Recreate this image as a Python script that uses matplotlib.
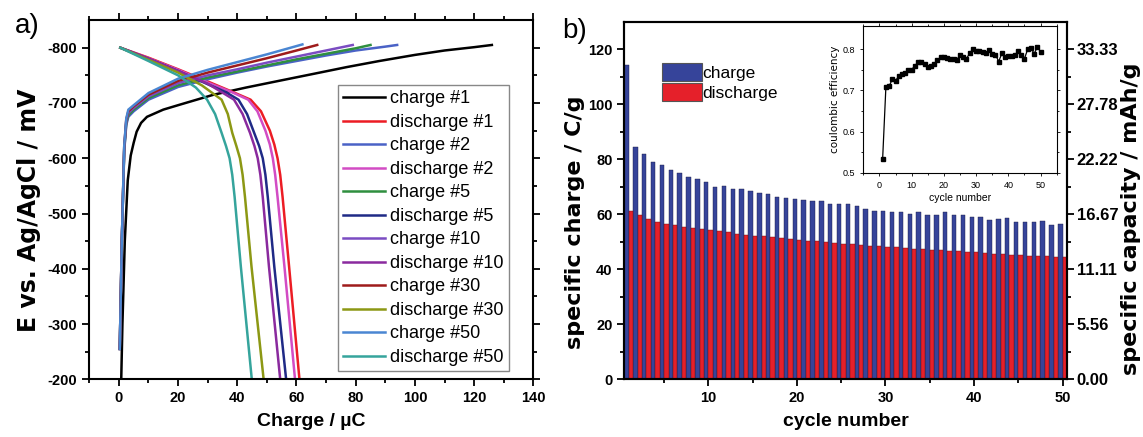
import numpy as np
import matplotlib
matplotlib.use("Agg")
import matplotlib.pyplot as plt
from matplotlib.ticker import MultipleLocator, FixedLocator

plt.rcParams['font.family'] = ['Liberation Sans', 'DejaVu Sans']
plt.rcParams['axes.unicode_minus'] = False

# ---------------- Panel a data: (charge / uC, potential / mV) ----------------
labels_a = ["charge #1", "discharge #1", "charge #2", "discharge #2", "charge #5",
            "discharge #5", "charge #10", "discharge #10", "charge #30",
            "discharge #30", "charge #50", "discharge #50"]
colors_a = ["#000000", "#ec1c24", "#4a62c6", "#d24cc4", "#2f8f3f", "#1f2a86",
            "#7b4cc2", "#8a2a9e", "#9e1b1b", "#8c9814", "#4a86d2", "#35a49c"]

ch1_x = [0.8, 1.2, 2.0, 3.0, 4.0, 5.0, 6.0, 7.5, 9.5, 15, 20.6, 32, 43, 54, 66, 77, 88, 100, 110, 120, 126]
ch1_y = [-200, -300, -450, -560, -605, -628, -648, -664, -675, -688, -697, -715, -728, -740, -753, -765, -776, -787, -795, -801, -805]
dis1_x = [0.5, 10, 20, 30, 38, 44.5, 48, 51, 52.5, 53.6, 54.5, 55.3, 57.5, 61.0]
dis1_y = [-800, -782, -761, -739, -721, -706, -685, -650, -625, -600, -570, -530, -404, -200]
ch2_x = [0.3, 1.0, 1.8, 2.5, 3.2, 5, 10, 20, 30, 40, 50, 60, 70, 80, 90, 94]
ch2_y = [-255, -450, -612, -660, -675, -685, -706, -729, -743, -755, -766, -776, -786, -795, -802, -805]
dis2_x = [0.5, 10, 20, 30, 38, 43.7, 46.8, 49.5, 51.0, 52.0, 52.8, 53.6, 56.0, 59.5]
dis2_y = [-800, -781, -760, -737, -720, -706, -685, -650, -625, -600, -570, -530, -400, -200]
ch5_x = [0.3, 1.0, 1.8, 2.5, 3.2, 5, 10, 20, 30, 40, 50, 60, 70, 80, 85]
ch5_y = [-255, -450, -615, -664, -678, -688, -709, -732, -746, -757, -768, -779, -789, -799, -805]
dis5_x = [0.5, 10, 20, 30, 36, 40.4, 43.3, 45.7, 47.4, 48.6, 49.5, 50.3, 52.5, 56.5]
dis5_y = [-800, -780, -758, -734, -720, -706, -680, -646, -622, -600, -570, -530, -404, -200]
ch10_x = [0.3, 1.0, 1.8, 2.5, 3.2, 5, 10, 20, 30, 40, 50, 60, 70, 79]
ch10_y = [-255, -450, -618, -668, -682, -691, -712, -736, -750, -761, -773, -784, -795, -805]
dis10_x = [0.5, 10, 20, 30, 38.9, 41.8, 44.3, 45.8, 46.9, 47.8, 48.6, 50.7, 54.5]
dis10_y = [-800, -780, -758, -735, -706, -680, -646, -622, -600, -570, -530, -404, -200]
ch30_x = [0.3, 1.0, 1.8, 2.5, 3.2, 5, 10, 20, 30, 40, 50, 60, 67]
ch30_y = [-255, -450, -620, -670, -685, -694, -715, -740, -755, -768, -781, -795, -805]
dis30_x = [0.5, 10, 20, 28, 34.7, 36.8, 38.3, 39.7, 40.9, 41.8, 42.6, 44.8, 48.9]
dis30_y = [-800, -778, -755, -732, -706, -680, -646, -622, -600, -570, -530, -404, -200]
ch50_x = [0.3, 1.0, 1.8, 2.5, 3.2, 5, 10, 20, 30, 40, 50, 62]
ch50_y = [-255, -450, -622, -672, -688, -696, -718, -744, -760, -774, -788, -806]
dis50_x = [0.5, 10, 20, 26, 29.8, 32.5, 34.7, 36.2, 37.4, 38.3, 39.1, 41.2, 44.9]
dis50_y = [-800, -776, -750, -728, -706, -680, -646, -622, -600, -570, -530, -404, -200]

curves_x = [ch1_x, dis1_x, ch2_x, dis2_x, ch5_x, dis5_x, ch10_x, dis10_x, ch30_x, dis30_x, ch50_x, dis50_x]
curves_y = [ch1_y, dis1_y, ch2_y, dis2_y, ch5_y, dis5_y, ch10_y, dis10_y, ch30_y, dis30_y, ch50_y, dis50_y]

# ---------------- Panel b data ----------------
cycles = list(range(1, 51))
charge = [114.2, 84.5, 81.8, 78.9, 77.8, 76.2, 75.2, 73.5, 72.7, 71.9,
          69.9, 70.2, 69.2, 69.2, 68.6, 67.9, 67.3, 66.2, 65.9, 65.5,
          65.2, 65.0, 65.0, 63.6, 63.6, 63.6, 63.0, 61.8, 61.2, 61.2,
          61.0, 61.0, 60.2, 60.8, 59.9, 59.9, 61.0, 59.6, 59.9, 59.2,
          59.2, 57.8, 58.4, 58.8, 57.2, 57.2, 57.2, 57.6, 56.2, 56.6]
discharge = [61.1, 59.6, 58.4, 57.2, 56.4, 56.0, 55.5, 55.2, 54.7, 54.2,
             53.8, 53.7, 53.0, 52.6, 52.2, 52.0, 51.8, 51.4, 51.0, 50.8,
             50.4, 50.2, 49.8, 49.6, 49.3, 49.1, 48.8, 48.6, 48.4, 48.2,
             48.0, 47.8, 47.5, 47.4, 47.2, 46.9, 46.8, 46.5, 46.4, 46.2,
             45.9, 45.7, 45.6, 45.3, 45.2, 45.0, 44.8, 44.7, 44.6, 44.5]
efficiency = [0.534, 0.707, 0.710, 0.727, 0.723, 0.735, 0.740, 0.742, 0.750, 0.750,
              0.760, 0.768, 0.770, 0.763, 0.757, 0.760, 0.765, 0.773, 0.780, 0.780,
              0.779, 0.776, 0.776, 0.773, 0.787, 0.782, 0.777, 0.790, 0.800, 0.795,
              0.795, 0.793, 0.790, 0.797, 0.788, 0.787, 0.770, 0.790, 0.781, 0.783,
              0.783, 0.785, 0.795, 0.785, 0.777, 0.800, 0.803, 0.789, 0.805, 0.794]
left_ticks = [0, 20, 40, 60, 80, 100, 120]
right_tick_labels = ["0.00", "5.56", "11.11", "16.67", "22.22", "27.78", "33.33"]
conv = 3.6  # C/g -> mAh/g

blue = "#36449a"
red = "#e5202a"
vfont = ['DejaVu Sans']

fig = plt.figure(figsize=(11.43, 4.37), dpi=100)

# ---------------- Panel a ----------------
ax1 = fig.add_axes([0.0781, 0.132, 0.3885, 0.822])
for xs, ys, c, lab in zip(curves_x, curves_y, colors_a, labels_a):
    ax1.plot(xs, ys, color=c, lw=1.8, label=lab, solid_joinstyle='round')
ax1.set_xlim(-10, 140)
ax1.set_ylim(-200, -850)
ax1.xaxis.set_major_locator(MultipleLocator(20))
ax1.xaxis.set_minor_locator(MultipleLocator(10))
ax1.yaxis.set_major_locator(FixedLocator([-800, -700, -600, -500, -400, -300, -200]))
ax1.yaxis.set_minor_locator(FixedLocator([-750, -650, -550, -450, -350, -250]))
ax1.tick_params(which='both', direction='out', top=True, right=True, width=1.3)
ax1.tick_params(which='major', length=5, labelsize=10.5)
ax1.tick_params(which='minor', length=3)
for lbl in ax1.get_xticklabels() + ax1.get_yticklabels():
    lbl.set_fontweight('bold')
for s in ax1.spines.values():
    s.set_linewidth(1.5)
ax1.set_xlabel("Charge / µC", fontsize=14, fontweight='bold', labelpad=6)
ax1.set_ylabel("E vs. Ag/AgCl / mV", fontsize=17, fontweight='bold', labelpad=5, family=vfont)
ax1.yaxis.label.set_y(0.47)
leg = ax1.legend(loc='lower right', bbox_to_anchor=(0.945, 0.022), fontsize=13,
                 handlelength=2.3, handletextpad=0.3, labelspacing=0.36,
                 fancybox=False, framealpha=1, edgecolor='#888888', borderpad=0.3,
                 borderaxespad=0)
leg.get_frame().set_linewidth(1.0)
fig.text(0.013, 0.925, "a)", fontsize=20, va='baseline')

# ---------------- Panel b ----------------
ax2 = fig.add_axes([0.5462, 0.132, 0.3873, 0.818])
cyc = np.array(cycles)
ax2.bar(cyc - 0.25, charge, width=0.5, color=blue, edgecolor='#1a1a40', linewidth=0.3, label='charge')
ax2.bar(cyc + 0.25, discharge, width=0.5, color=red, edgecolor='#5a1010', linewidth=0.3, label='discharge')
ax2.set_xlim(0.5, 50.5)
ax2.set_ylim(0, 130)
ax2.xaxis.set_major_locator(FixedLocator([10, 20, 30, 40, 50]))
ax2.xaxis.set_minor_locator(FixedLocator([5, 15, 25, 35, 45]))
ax2.yaxis.set_major_locator(FixedLocator(left_ticks))
ax2.yaxis.set_minor_locator(FixedLocator([10, 30, 50, 70, 90, 110]))
ax2.tick_params(which='both', direction='out', width=1.3)
ax2.tick_params(which='major', length=5, labelsize=10.5)
ax2.tick_params(which='minor', length=3)
for lbl in ax2.get_xticklabels() + ax2.get_yticklabels():
    lbl.set_fontweight('bold')
for s in ax2.spines.values():
    s.set_linewidth(1.5)
ax2.set_xlabel("cycle number", fontsize=14, fontweight='bold', labelpad=6)
ax2.set_ylabel("specific charge / C/g", fontsize=16, fontweight='bold', labelpad=2, family=vfont)
ax2.yaxis.label.set_y(0.44)
leg2 = ax2.legend(loc='upper left', bbox_to_anchor=(0.085, 0.885), fontsize=12.5,
                  frameon=False, handlelength=2.3, handleheight=1.2,
                  handletextpad=0.05, labelspacing=0.12, borderpad=0, borderaxespad=0)
for h in leg2.legend_handles:
    h.set_edgecolor('#555555')
    h.set_linewidth(0.8)
fig.text(0.492, 0.913, "b)", fontsize=20, va='baseline')

ax3 = ax2.twinx()
ax3.set_ylim(0, 130 / conv)
ax3.yaxis.set_major_locator(FixedLocator([t / conv for t in left_ticks]))
ax3.yaxis.set_minor_locator(FixedLocator([t / conv for t in [10, 30, 50, 70, 90, 110]]))
ax3.set_yticklabels(right_tick_labels)
ax3.tick_params(which='both', direction='out', width=1.3)
ax3.tick_params(which='major', length=5, labelsize=12, pad=2)
ax3.tick_params(which='minor', length=3)
for lbl in ax3.get_yticklabels():
    lbl.set_fontweight('bold')
for s in ax3.spines.values():
    s.set_linewidth(1.5)
ax3.set_ylabel("specific capacity / mAh/g", fontsize=16, fontweight='bold', labelpad=2, family=vfont)
ax3.yaxis.label.set_y(0.45)

# ---------------- Inset ----------------
axin = fig.add_axes([0.7553, 0.6048, 0.1692, 0.3364])
axin.plot(cycles, efficiency, color='black', lw=0.9, marker='s', ms=2.2)
axin.set_xlim(-5, 55)
axin.set_ylim(0.5, 0.857)
axin.xaxis.set_major_locator(MultipleLocator(10))
axin.xaxis.set_minor_locator(MultipleLocator(5))
axin.yaxis.set_major_locator(FixedLocator([0.5, 0.6, 0.7, 0.8]))
axin.yaxis.set_minor_locator(FixedLocator([0.55, 0.65, 0.75]))
axin.tick_params(which='both', direction='out', top=True, right=True, width=0.6, labelsize=6.5)
axin.tick_params(which='major', length=2.5)
axin.tick_params(which='minor', length=1.5)
for s in axin.spines.values():
    s.set_linewidth(0.8)
axin.set_xlabel("cycle number", fontsize=7.5, labelpad=2)
axin.set_ylabel("coulombic efficiency", fontsize=7.5, labelpad=2, family=vfont)

fig.savefig("out.png", dpi=100)
